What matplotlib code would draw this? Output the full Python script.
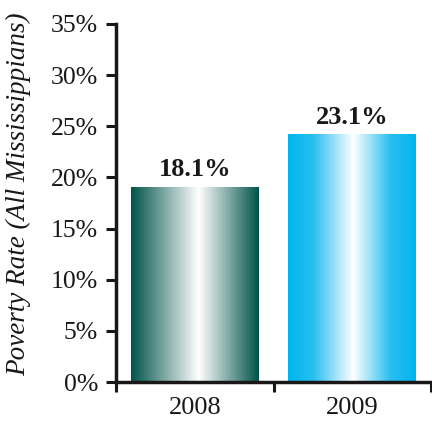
import numpy as np
import matplotlib.pyplot as plt
from matplotlib.colors import LinearSegmentedColormap

years = ["2008", "2009"]
bar_heights = [19.1, 24.2]
value_labels = ["18.1%", "23.1%"]
yticks = [0, 5, 10, 15, 20, 25, 30, 35]

plt.rcParams["font.family"] = ["Liberation Serif", "DejaVu Serif"]
ink = "#1a1718"

fig = plt.figure(figsize=(4.32, 4.23), dpi=100)
ax = fig.add_axes([116 / 432, 1 - 382 / 423, (431 - 116) / 432, (382 - 24) / 423])

x = np.arange(len(years))
bars = ax.bar(x, bar_heights, width=0.81, color="none", edgecolor="none", zorder=2)

# horizontal gradients: dark edge -> white near middle -> dark edge
cmaps = [
    LinearSegmentedColormap.from_list(
        "teal", [(0, "#00544a"), (0.53, "#ffffff"), (1, "#00544a")]),
    LinearSegmentedColormap.from_list(
        "cyan", [(0, "#00b5ee"), (0.2, "#29bff0"), (0.51, "#ffffff"),
                 (0.8, "#29bff0"), (1, "#00b5ee")]),
]
grad = np.linspace(0, 1, 256).reshape(1, -1)
for b, cm in zip(bars, cmaps):
    x0, w, h = b.get_x(), b.get_width(), b.get_height()
    im = ax.imshow(grad, cmap=cm, aspect="auto", extent=[x0, x0 + w, 0, h],
                   zorder=2, interpolation="bilinear")
    im.set_clip_path(b)

for b, lab in zip(bars, value_labels):
    ax.annotate(lab, (b.get_x() + b.get_width() / 2, b.get_height()),
                xytext=(0, 7.5), textcoords="offset points",
                ha="center", va="baseline", fontsize=19, fontweight="bold", color=ink)

ax.set_xlim(-0.5, 1.5)
ax.set_ylim(0, 35)
ax.set_yticks(yticks)
ax.set_yticklabels([f"{t}%" for t in yticks], fontsize=18.5, color=ink)
ax.set_xticks([-0.5, 0.5, 1.5])
ax.set_xticklabels([])
ax.set_xticks(x, minor=True)
ax.set_xticklabels(years, minor=True, fontsize=19, color=ink)
ax.tick_params(axis="x", which="minor", length=0, pad=11)
ax.tick_params(axis="x", which="major", direction="out", length=7, width=2.2, color=ink)
ax.tick_params(axis="y", direction="out", length=7, width=2.2, color=ink, pad=6)

for s in ["top", "right"]:
    ax.spines[s].set_visible(False)
for s in ["left", "bottom"]:
    ax.spines[s].set_linewidth(2.5)
    ax.spines[s].set_color(ink)

ax.set_ylabel("Poverty Rate (All Mississippians)", fontsize=19.5, style="italic",
              color=ink)
ax.yaxis.set_label_coords(-0.27, 0.524)

fig.savefig("out.png", dpi=100)
